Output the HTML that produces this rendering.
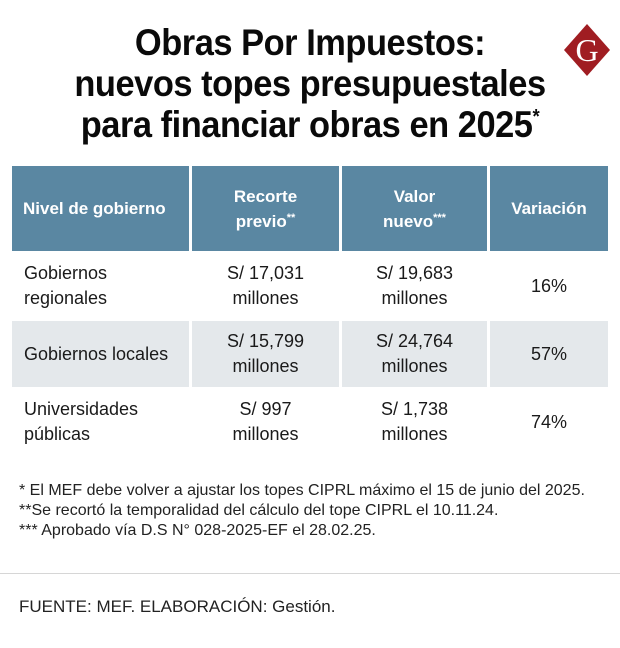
<!DOCTYPE html>
<html><head><meta charset="utf-8">
<style>
html,body{margin:0;padding:0;background:#fff;}
body{width:620px;height:648px;position:relative;overflow:hidden;font-family:"Liberation Sans",sans-serif;color:#1a1a1a;}
.t{position:absolute;white-space:nowrap;}
.title{left:0;width:620px;text-align:center;font-weight:bold;font-size:37px;color:#0a0a0a;letter-spacing:-0.5px;transform:scaleX(0.93);transform-origin:310px 0;}
.cell{position:absolute;display:flex;align-items:center;box-sizing:border-box;font-size:18px;line-height:25px;}
.hd{background:#5a87a2;color:#fff;font-weight:bold;font-size:17px;line-height:25px;justify-content:center;text-align:center;}
.c{justify-content:center;text-align:center;}
.l{padding-left:12px;}
.g{background:#e4e8eb;}
.fn{left:19px;font-size:16px;color:#222;}
.s{font-size:11px;vertical-align:6px;line-height:0;}
.ts{font-size:20px;vertical-align:14px;line-height:0;}
</style></head><body>
<div class="t title" style="top:22px">Obras Por Impuestos:</div>
<div class="t title" style="top:63px">nuevos topes presupuestales</div>
<div class="t title" style="top:104px">para financiar obras en 2025<span class="ts">*</span></div>
<svg style="position:absolute;left:563px;top:22px" width="48" height="56">
<polygon points="24,2 47,28 24,54 1,28" fill="#a01d22"/>
<text x="24" y="39" text-anchor="middle" font-family="Liberation Serif,serif" font-size="32" fill="#fff">G</text>
</svg>

<div class="cell hd" style="left:12px;top:166px;width:177px;height:85px;justify-content:flex-start;padding-left:11px">Nivel de gobierno</div>
<div class="cell hd" style="left:192px;top:166px;width:147px;height:85px"><div>Recorte<br>previo<span class="s">**</span></div></div>
<div class="cell hd" style="left:342px;top:166px;width:145px;height:85px"><div>Valor<br>nuevo<span class="s">***</span></div></div>
<div class="cell hd" style="left:490px;top:166px;width:118px;height:85px">Variación</div>

<div class="cell l" style="left:12px;top:253px;width:177px;height:66px">Gobiernos<br>regionales</div>
<div class="cell c" style="left:192px;top:253px;width:147px;height:66px">S/ 17,031<br>millones</div>
<div class="cell c" style="left:342px;top:253px;width:145px;height:66px">S/ 19,683<br>millones</div>
<div class="cell c" style="left:490px;top:253px;width:118px;height:66px">16%</div>

<div class="cell l g" style="left:12px;top:321px;width:177px;height:66px">Gobiernos locales</div>
<div class="cell c g" style="left:192px;top:321px;width:147px;height:66px">S/ 15,799<br>millones</div>
<div class="cell c g" style="left:342px;top:321px;width:145px;height:66px">S/ 24,764<br>millones</div>
<div class="cell c g" style="left:490px;top:321px;width:118px;height:66px">57%</div>

<div class="cell l" style="left:12px;top:389px;width:177px;height:66px">Universidades<br>públicas</div>
<div class="cell c" style="left:192px;top:389px;width:147px;height:66px">S/ 997<br>millones</div>
<div class="cell c" style="left:342px;top:389px;width:145px;height:66px">S/ 1,738<br>millones</div>
<div class="cell c" style="left:490px;top:389px;width:118px;height:66px">74%</div>

<div class="t fn" style="top:482px">* El MEF debe volver a ajustar los topes CIPRL máximo el 15 de junio del 2025.</div>
<div class="t fn" style="top:502px">**Se recortó la temporalidad del cálculo del tope CIPRL el 10.11.24.</div>
<div class="t fn" style="top:522px">*** Aprobado vía D.S N° 028-2025-EF el 28.02.25.</div>
<div style="position:absolute;left:0;top:573px;width:620px;height:1px;background:#d6d6d6"></div>
<div class="t fn" style="top:597px;font-size:17px">FUENTE: MEF. ELABORACIÓN: Gestión.</div>
</body></html>
